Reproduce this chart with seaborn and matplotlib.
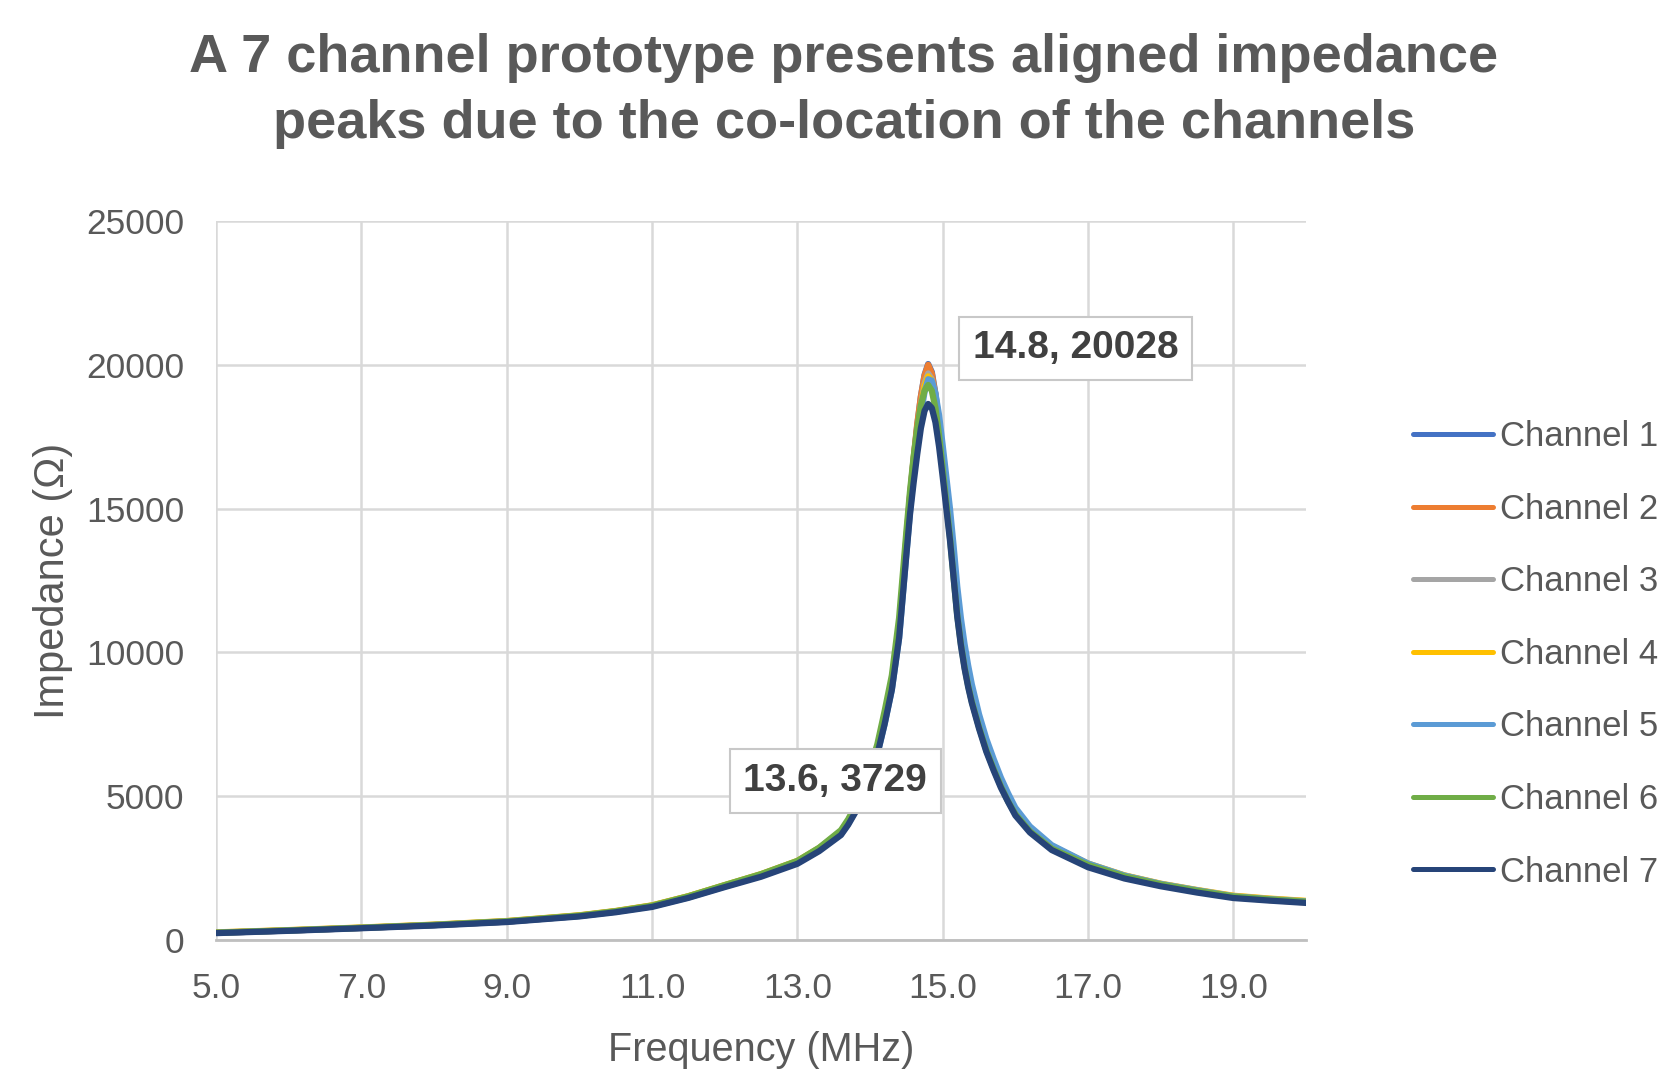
import matplotlib
matplotlib.use("Agg")
import matplotlib.pyplot as plt
import seaborn as sns
import pandas as pd

# frequency points (MHz)
freq = [5, 6, 7, 8, 9, 10,
        10.5, 11, 11.5, 12, 12.5, 13,
        13.3, 13.6, 13.7, 13.8, 13.9, 14.0,
        14.1, 14.2, 14.3, 14.4, 14.5, 14.55,
        14.6, 14.65, 14.7, 14.75, 14.8, 14.85,
        14.9, 14.95, 15.0, 15.05, 15.1, 15.15,
        15.2, 15.25, 15.3, 15.35, 15.4, 15.5,
        15.6, 15.7, 15.8, 15.9, 16.0, 16.2,
        16.5, 17, 17.5, 18, 18.5, 19,
        19.5, 20]

# impedance (ohm) per channel
ch1 = [250, 330, 420, 520, 640, 840,
       990, 1180, 1500, 1880, 2250, 2700,
       3150, 3729, 4100, 4550, 5050, 5800,
       6600, 7700, 8900, 10800, 13900, 15400,
       16700, 17900, 18900, 19650, 20028, 19750,
       19000, 17950, 16700, 15500, 14300, 12900,
       11500, 10500, 9650, 9000, 8400, 7500,
       6700, 6050, 5450, 4900, 4450, 3820,
       3200, 2600, 2200, 1920, 1700, 1500,
       1400, 1320]
ch2 = [250, 330, 420, 520, 640, 840,
       990, 1180, 1500, 1890, 2260, 2720,
       3170, 3760, 4130, 4590, 5100, 5850,
       6650, 7750, 8950, 10850, 13950, 15450,
       16750, 17950, 18900, 19620, 20000, 19700,
       18950, 17850, 16600, 15400, 14200, 12800,
       11400, 10400, 9600, 8950, 8350, 7450,
       6650, 6000, 5400, 4850, 4420, 3800,
       3180, 2590, 2190, 1910, 1690, 1490,
       1390, 1310]
ch3 = [260, 340, 430, 530, 655, 855,
       1005, 1200, 1520, 1900, 2280, 2740,
       3190, 3770, 4150, 4600, 5100, 5850,
       6650, 7750, 8950, 10800, 13800, 15300,
       16550, 17650, 18600, 19350, 19700, 19500,
       18850, 17850, 16700, 15500, 14300, 12950,
       11550, 10550, 9700, 9050, 8450, 7550,
       6750, 6100, 5500, 4950, 4500, 3870,
       3250, 2640, 2240, 1950, 1730, 1530,
       1430, 1350]
ch4 = [265, 345, 435, 535, 660, 860,
       1010, 1205, 1525, 1910, 2290, 2750,
       3200, 3780, 4160, 4620, 5120, 5880,
       6700, 7800, 9000, 10850, 13800, 15250,
       16500, 17600, 18500, 19250, 19600, 19450,
       18800, 17850, 16700, 15500, 14350, 13000,
       11600, 10600, 9750, 9100, 8500, 7600,
       6800, 6150, 5550, 5000, 4530, 3890,
       3270, 2660, 2250, 1960, 1740, 1540,
       1440, 1360]
ch5 = [250, 330, 420, 520, 640, 835,
       985, 1170, 1480, 1860, 2230, 2680,
       3120, 3680, 4040, 4480, 4950, 5680,
       6450, 7500, 8700, 10500, 13400, 14900,
       16200, 17300, 18300, 19050, 19500, 19450,
       19000, 18250, 17200, 16100, 15000, 13700,
       12300, 11200, 10300, 9550, 8900, 7850,
       7000, 6300, 5650, 5100, 4600, 3950,
       3300, 2660, 2240, 1950, 1730, 1520,
       1420, 1340]
ch6 = [255, 335, 425, 525, 650, 850,
       1000, 1195, 1520, 1910, 2290, 2750,
       3210, 3820, 4200, 4670, 5200, 5980,
       6800, 7950, 9200, 11200, 14200, 15600,
       16800, 17800, 18600, 19100, 19300, 19100,
       18500, 17550, 16400, 15200, 14000, 12600,
       11300, 10300, 9500, 8850, 8300, 7400,
       6600, 5950, 5350, 4820, 4380, 3780,
       3180, 2610, 2210, 1930, 1710, 1510,
       1410, 1330]
ch7 = [240, 320, 410, 505, 625, 820,
       965, 1150, 1465, 1840, 2200, 2650,
       3090, 3650, 4010, 4450, 4950, 5680,
       6450, 7500, 8700, 10500, 13400, 14800,
       15900, 16900, 17800, 18400, 18640, 18500,
       18000, 17150, 16100, 15000, 13900, 12600,
       11250, 10250, 9450, 8800, 8250, 7350,
       6550, 5900, 5300, 4800, 4330, 3740,
       3130, 2530, 2140, 1870, 1650, 1460,
       1370, 1290]

channels = ["Channel 1", "Channel 2", "Channel 3", "Channel 4", "Channel 5", "Channel 6", "Channel 7"]
colors = ["#4472C4", "#ED7D31", "#A5A5A5", "#FFC000", "#5B9BD5", "#70AD47", "#264478"]

x_ticks = [5, 7, 9, 11, 13, 15, 17, 19]
y_ticks = [0, 5000, 10000, 15000, 20000, 25000]

# long-form table for seaborn
rows = []
for name, vals in zip(channels, [ch1, ch2, ch3, ch4, ch5, ch6, ch7]):
    for f, z in zip(freq, vals):
        rows.append({"freq": f, "imp": z, "channel": name})
df = pd.DataFrame(rows)

sns.set_theme(style="whitegrid")
plt.rcParams["font.family"] = ["Liberation Sans", "DejaVu Sans"]
grey = "#595959"

fig = plt.figure(figsize=(16.68, 10.71), dpi=100)
ax = fig.add_axes([0.1295, 0.1223, 0.6535, 0.6713])

sns.lineplot(data=df, x="freq", y="imp", hue="channel", palette=colors,
             linewidth=4.5, ax=ax, legend=True)

ax.set_xlim(5, 20)
ax.set_ylim(0, 25000)
ax.set_xticks(x_ticks)
ax.set_xticklabels([f"{t:.1f}" for t in x_ticks])
ax.set_yticks(y_ticks)
ax.set_yticklabels([str(t) for t in y_ticks])
ax.tick_params(axis="both", labelsize=25.5, colors=grey, length=0)
ax.tick_params(axis="x", pad=23)
ax.tick_params(axis="y", pad=23)
ax.grid(True, color="#D9D9D9", linewidth=1.8)
for side in ["top", "right", "left"]:
    ax.spines[side].set_visible(False)
ax.spines["bottom"].set_color("#BFBFBF")
ax.spines["bottom"].set_linewidth(2)
ax.set_facecolor("white")

ax.set_xlabel("Frequency (MHz)", fontsize=28.5, color=grey, labelpad=19)
ax.set_ylabel("Impedance (Ω)", fontsize=30, color=grey, labelpad=9.5)

box = dict(boxstyle="square,pad=0.35", facecolor="white", edgecolor="#C8C8C8", linewidth=1.5)
ax.text(16.83, 20580, "14.8, 20028", fontsize=28, fontweight="bold", color="#404040",
        ha="center", va="center", bbox=box)
ax.text(13.52, 5530, "13.6, 3729", fontsize=28, fontweight="bold", color="#404040",
        ha="center", va="center", bbox=box)

leg = ax.legend(loc="center left", bbox_to_anchor=(0.839, 0.389), bbox_transform=fig.transFigure,
                frameon=False, fontsize=25, handlelength=2.3, handletextpad=0.2,
                labelspacing=1.14, borderaxespad=0)
for t in leg.get_texts():
    t.set_color(grey)
for h in leg.get_lines():
    h.set_linewidth(3.6)

fig.text(0.506, 0.915, "A 7 channel prototype presents aligned impedance\npeaks due to the co-location of the channels",
         ha="center", va="center", fontsize=39, fontweight="bold", color=grey, linespacing=1.42)

fig.savefig("out.png", dpi=100, facecolor="white")
